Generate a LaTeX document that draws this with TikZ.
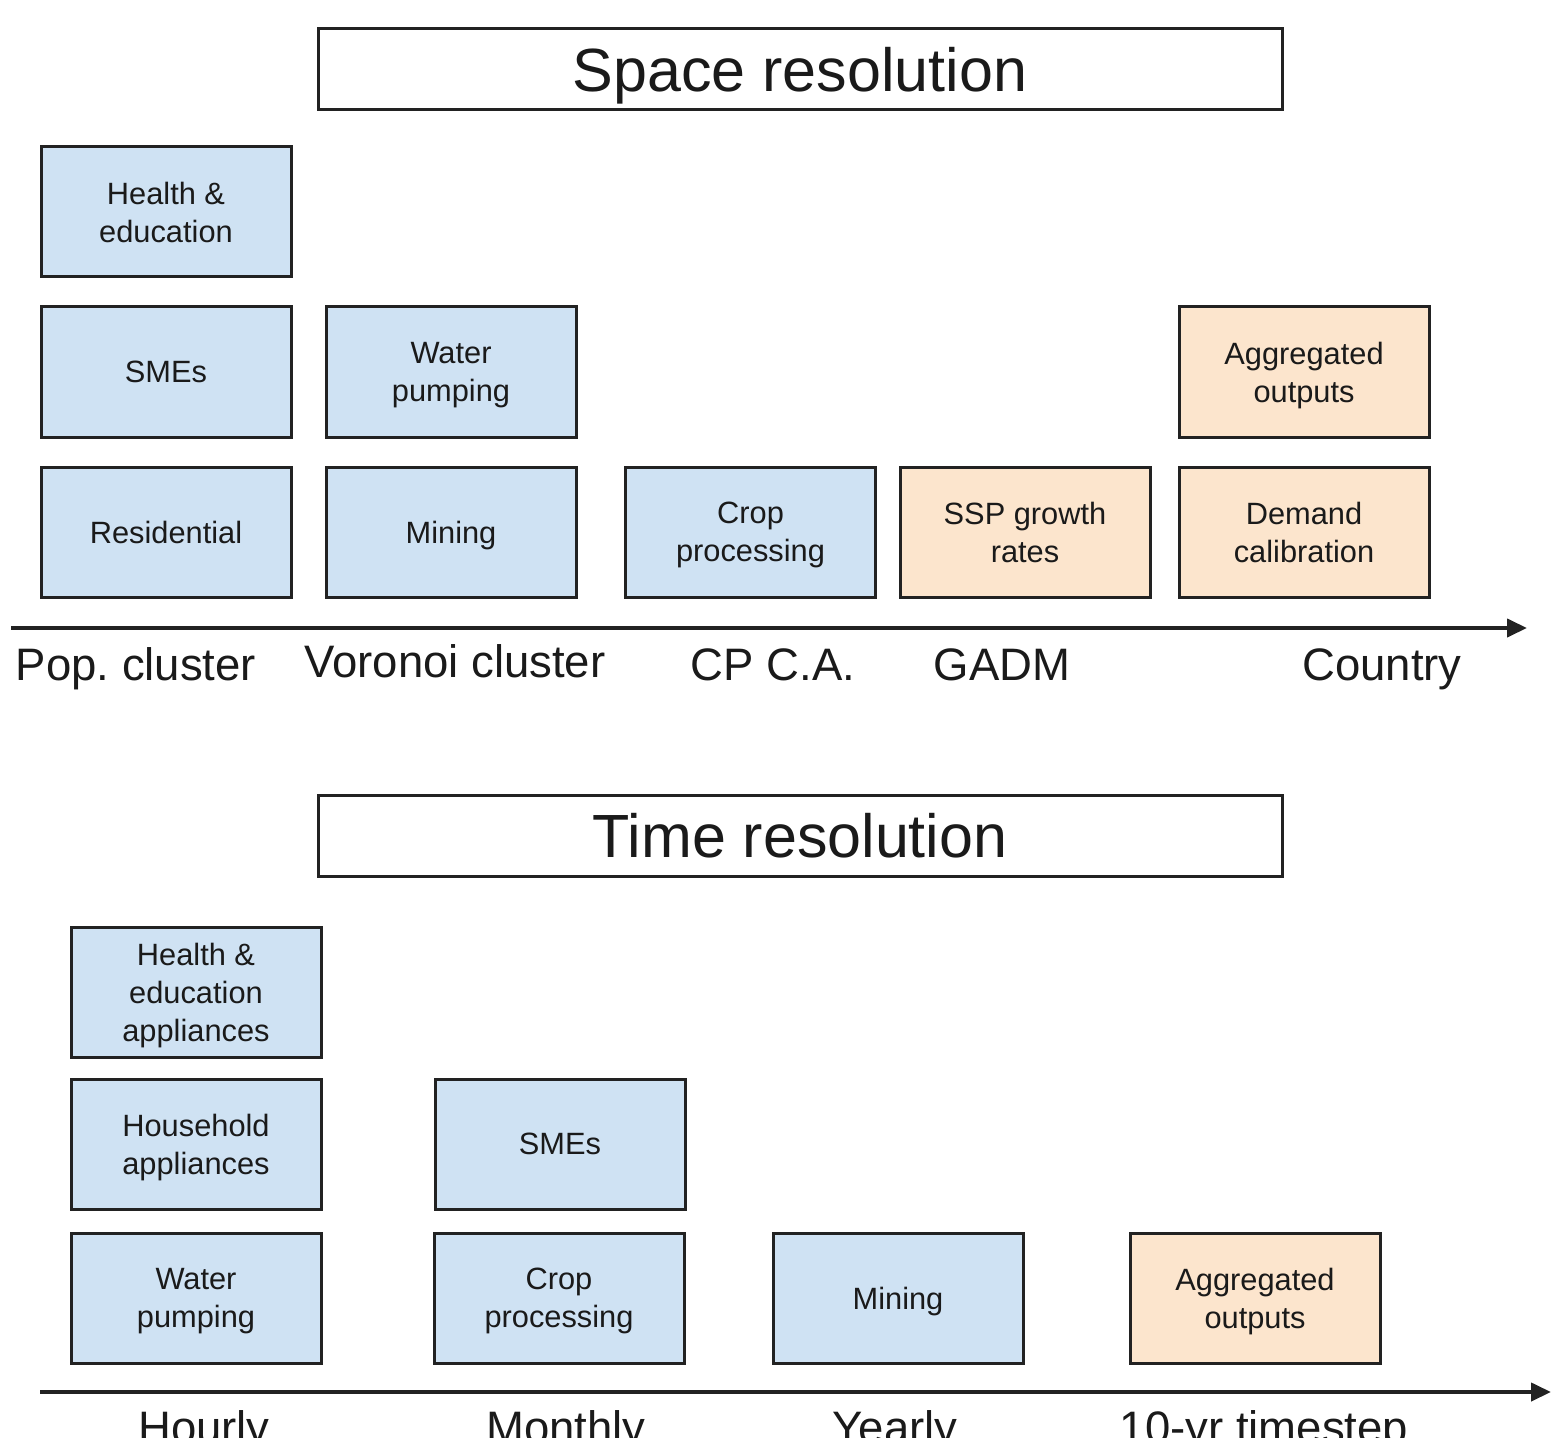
\documentclass[tikz,border=0pt]{standalone}
\usepackage{fontspec}
\setmainfont{Liberation Sans}
\usetikzlibrary{arrows.meta}
\definecolor{bluefill}{HTML}{CFE2F3}
\definecolor{orangefill}{HTML}{FCE5CD}
\definecolor{edgec}{HTML}{222222}
\definecolor{txt}{HTML}{1A1A1A}
\begin{document}
\begin{tikzpicture}[x=0.5pt,y=-0.5pt,
  cat/.style={draw=edgec,line width=1.5pt,minimum width=125pt,minimum height=65pt,inner sep=0pt,align=center,text depth=0pt,text=txt,font=\fontsize{15.4}{19}\selectfont},
  bluebox/.style={cat,fill=bluefill},
  orangebox/.style={cat,fill=orangefill},
  titlebox/.style={draw=edgec,line width=1.5pt,fill=white,minimum width=482pt,minimum height=40.5pt,inner sep=0pt,text depth=0pt,text=txt,font=\fontsize{30.5}{36}\selectfont},
  axislabel/.style={anchor=base,inner sep=0pt,text=txt,font=\fontsize{22.75}{27}\selectfont},
  axis/.style={draw=edgec,line width=2pt,-{Triangle[length=10pt,width=9pt]}}]
\useasboundingbox[fill=white] (0,0) rectangle (1551,1449);

% ---------- Space resolution ----------
\node[titlebox] (spacetitle) at (800,69.5) {Space resolution};
\node[bluebox] (s_health) at (166,212) {Health \&\\education};
\node[bluebox] (s_smes) at (166,372) {SMEs};
\node[bluebox] (s_water) at (451,372) {Water\\pumping};
\node[orangebox] (s_agg) at (1304,372) {Aggregated\\outputs};
\node[bluebox] (s_res) at (166,532) {Residential};
\node[bluebox] (s_mining) at (451,532) {Mining};
\node[bluebox] (s_crop) at (750.5,532) {Crop\\processing};
\node[orangebox] (s_ssp) at (1025,532) {SSP growth\\rates};
\node[orangebox] (s_demand) at (1304,532) {Demand\\calibration};

\coordinate (sax0) at (11,628);
\coordinate (sax1) at (1527,628);
\draw[axis] (sax0) -- (sax1);
\node[axislabel] (l_pop) at (136,680) {Pop.\ cluster};
\node[axislabel] (l_vor) at (455,677) {Voronoi cluster};
\node[axislabel] (l_cp) at (773,680) {CP C.A.};
\node[axislabel] (l_gadm) at (1002,680) {GADM};
\node[axislabel] (l_country) at (1382,680) {Country};

% ---------- Time resolution ----------
\node[titlebox] (timetitle) at (800,835.5) {Time resolution};
\node[bluebox] (t_health) at (196,992) {Health \&\\education\\appliances};
\node[bluebox] (t_house) at (196,1144) {Household\\appliances};
\node[bluebox] (t_smes) at (560,1144) {SMEs};
\node[bluebox] (t_water) at (196,1298) {Water\\pumping};
\node[bluebox] (t_crop) at (559,1298) {Crop\\processing};
\node[bluebox] (t_mining) at (898,1298) {Mining};
\node[orangebox] (t_agg) at (1255,1298) {Aggregated\\outputs};

\coordinate (tax0) at (40,1392);
\coordinate (tax1) at (1551,1392);
\draw[axis] (tax0) -- (tax1);
\begin{scope}
\clip (0,0) rectangle (1551,1437);
\node[axislabel] (l_hourly) at (204,1443) {Hourly};
\node[axislabel] (l_monthly) at (566,1443) {Monthly};
\node[axislabel] (l_yearly) at (895,1443) {Yearly};
\node[axislabel] (l_ten) at (1264,1443) {10-yr timestep};
\end{scope}
\end{tikzpicture}
\end{document}
